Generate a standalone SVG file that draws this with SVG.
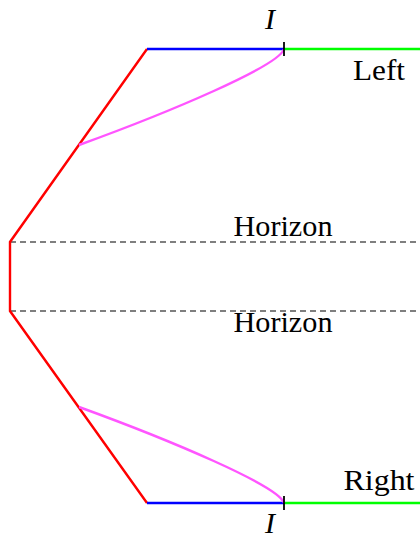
<svg xmlns="http://www.w3.org/2000/svg" width="420" height="540" viewBox="0 0 420 540">
<style>
.lbl{font-family:'Liberation Serif','DejaVu Serif',serif;font-size:30px;fill:#000}
.it{font-style:italic}
.red{stroke:#ff0000;stroke-width:2.4;fill:none}
.blue{stroke:#0000ff;stroke-width:2.6;fill:none}
.green{stroke:#00ff00;stroke-width:2.6;fill:none}
.mag{stroke:#ff55ff;stroke-width:2.4;fill:none}
.dash{stroke:#555;stroke-width:1.3;stroke-dasharray:6,4;fill:none}
.tick{stroke:#000;stroke-width:1.8}
</style>
<rect width="420" height="540" fill="#fff"/>
<g id="connectors">
<line class="dash" x1="10" y1="242" x2="420" y2="242"/>
<line class="dash" x1="10" y1="311" x2="420" y2="311"/>
<polyline class="red" points="147,49 10,242 10,311 147,503"/>
<line class="blue" x1="147" y1="49" x2="284" y2="49"/>
<line class="blue" x1="147" y1="503" x2="284" y2="503"/>
<line class="green" x1="284" y1="49" x2="420" y2="49"/>
<line class="green" x1="284" y1="503" x2="420" y2="503"/>
<path class="mag" d="M284,49 C279,66 170,112 79,145"/>
<path class="mag" d="M284,503 C279,486 170,440 79,407"/>
<line class="tick" x1="284" y1="42" x2="284" y2="56"/>
<line class="tick" x1="284" y1="496" x2="284" y2="510"/>
</g>
<g id="label-I-top"><text class="lbl it" x="270" y="29" text-anchor="middle">I</text></g>
<g id="label-left"><text class="lbl" x="379" y="80" text-anchor="middle" textLength="52" lengthAdjust="spacingAndGlyphs">Left</text></g>
<g id="label-horizon-top"><text class="lbl" x="283" y="236" text-anchor="middle" textLength="99" lengthAdjust="spacingAndGlyphs">Horizon</text></g>
<g id="label-horizon-bottom"><text class="lbl" x="283" y="332" text-anchor="middle" textLength="99" lengthAdjust="spacingAndGlyphs">Horizon</text></g>
<g id="label-right"><text class="lbl" x="379" y="490" text-anchor="middle" textLength="71" lengthAdjust="spacingAndGlyphs">Right</text></g>
<g id="label-I-bottom"><text class="lbl it" x="270" y="533" text-anchor="middle">I</text></g>
</svg>
